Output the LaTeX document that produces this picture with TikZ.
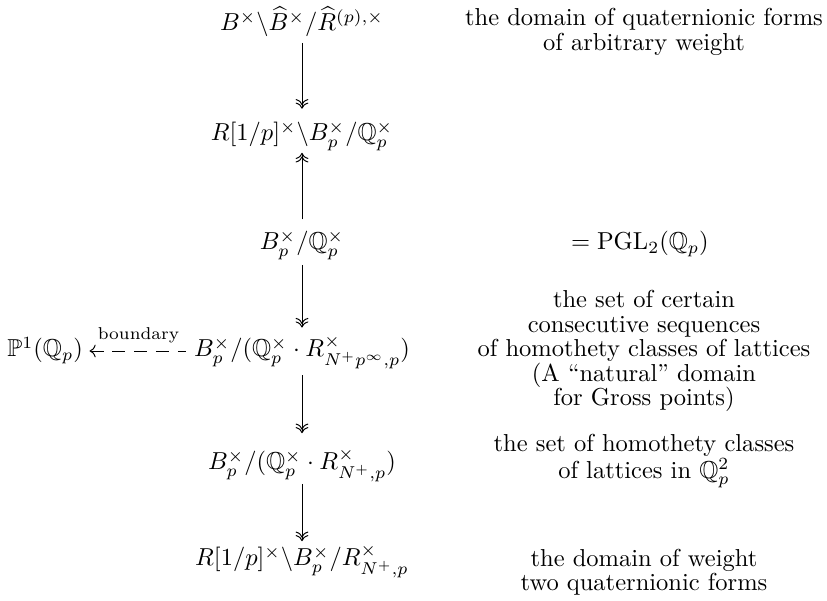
\documentclass[tikz,border=0pt]{standalone}
\usepackage{amsmath,amssymb}
\usetikzlibrary{cd}
\tikzset{
  mathnode/.style={inner sep=0pt, anchor=base},
  txtnode/.style={inner sep=0pt, align=center, anchor=center, font=\fontsize{10pt}{10pt}\selectfont},
  dbl/.style={-{tikzcd double to}, line width=0.4pt},
  dashar/.style={{tikzcd to}-, line width=0.4pt, dash pattern=on 5.3pt off 3.6pt},
}
\begin{document}
\begin{tikzpicture}[x=0.408pt, y=-0.408pt]
\useasboundingbox (0,0) rectangle (827,601);
% left column
\node[mathnode] (r1) at (302,31) {$B^\times\backslash\widehat{B}^\times/\widehat{R}^{(p),\times}$};
\node[mathnode] (r2) at (302,141) {$R[1/p]^\times\backslash B_p^\times/\mathbb{Q}_p^\times$};
\node[mathnode] (r3) at (302,250) {$B_p^\times/\mathbb{Q}_p^\times$};
\node[mathnode] (r4) at (302,357) {$B_p^\times/(\mathbb{Q}_p^\times\cdot R^\times_{N^+p^\infty,p})$};
\node[mathnode] (r5) at (302,470) {$B_p^\times/(\mathbb{Q}_p^\times\cdot R^\times_{N^+,p})$};
\node[mathnode] (r6) at (302,566) {$R[1/p]^\times\backslash B_p^\times/R^\times_{N^+,p}$};
\node[mathnode, anchor=base west] (p1) at (7,357) {$\mathbb{P}^1(\mathbb{Q}_p)$};
% right column
\node[txtnode] (t1) at (644,32) {the domain of quaternionic forms\\of arbitrary weight};
\node[txtnode, anchor=base] (t3) at (640,250) {$=\mathrm{PGL}_2(\mathbb{Q}_p)$};
\node[txtnode] (t4) at (644,351) {the set of certain\\consecutive sequences\\of homothety classes of lattices\\(A ``natural'' domain\\for Gross points)};
\node[txtnode] (t5) at (644,461) {the set of homothety classes\\of lattices in $\mathbb{Q}_p^2$};
\node[txtnode] (t6) at (644,572) {the domain of weight\\two quaternionic forms};
% arrows
\draw[dbl, shorten <=2.2pt, shorten >=5pt] (r1) -- (r2);
\draw[dbl, shorten <=4.3pt, shorten >=0.8pt] (r3) -- (r2);
\draw[dbl, shorten <=2pt, shorten >=3.2pt] (r3) -- (r4);
\draw[dbl, shorten <=2.4pt, shorten >=6.2pt] (r4) -- (r5);
\draw[dbl, shorten <=0.6pt, shorten >=1.3pt] (r5) -- (r6);
\coordinate (ax) at (0,351);
\draw[dashar, shorten <=2.5pt, shorten >=3pt] (p1.east |- ax) -- node[above=3pt, inner sep=0pt, font=\scriptsize] (bl) {boundary} (r4.west |- ax);
\end{tikzpicture}
\end{document}
